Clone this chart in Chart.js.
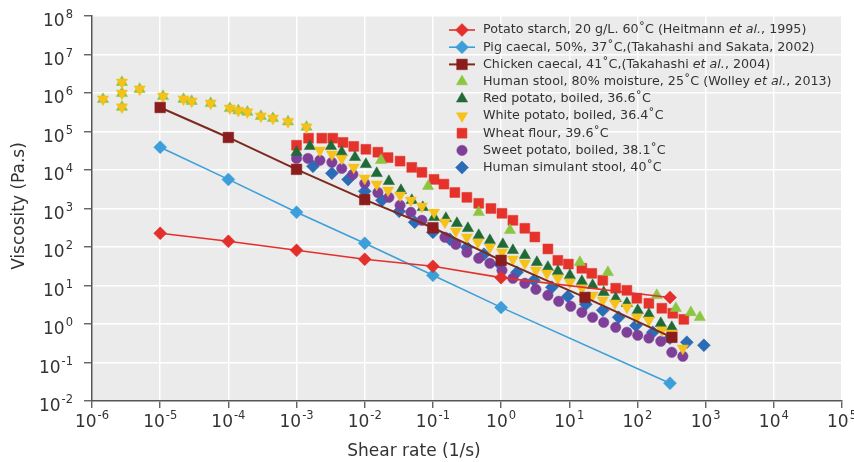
<!DOCTYPE html>
<html><head><meta charset="utf-8">
<script src="https://cdn.jsdelivr.net/npm/chart.js@4.4.1/dist/chart.umd.min.js"></script>
<style>html,body{margin:0;padding:0;background:#fff;}#wrap{width:854px;height:462px;}</style>
</head><body><div id="wrap"><canvas id="c" width="854" height="462"></canvas></div>
<script>
// ---------- data ----------
const tickBase = '10';
const xExponents = [-6,-5,-4,-3,-2,-1,0,1,2,3,4,5];
const yExponents = [-2,-1,0,1,2,3,4,5,6,7,8];
const xTickLabels = ['-6','-5','-4','-3','-2','-1','0','1','2','3','4','5'];
const yTickLabels = ['-2','-1','0','1','2','3','4','5','6','7','8'];

const seriesLabels = [
  'Potato starch, 20 g/L. 60˚C (Heitmann *et al.*, 1995)',
  'Pig caecal, 50%, 37˚C,(Takahashi and Sakata, 2002)',
  'Chicken caecal, 41˚C,(Takahashi *et al.*, 2004)',
  'Human stool, 80% moisture, 25˚C (Wolley *et al.*, 2013)',
  'Red potato, boiled, 36.6˚C',
  'White potato, boiled, 36.4˚C',
  'Wheat flour, 39.6˚C',
  'Sweet potato, boiled, 38.1˚C',
  'Human simulant stool, 40˚C'
];

const potatoStarchX = [1e-5,1e-4,1e-3,1e-2,1e-1,1,300];
const potatoStarchY = [227,141,82,48,31.5,16,4.9];

const pigCaecalX = [1e-5,1e-4,1e-3,1e-2,1e-1,1,300];
const pigCaecalY = [3.9e4,5.7e3,800,125,18.4,2.7,0.029];

const chickenCaecalX = [1e-5,1e-4,1e-3,1e-2,1e-1,1,17,320];
const chickenCaecalY = [4.2e5,7e4,1.04e4,1.7e3,316,45,4.9,0.45];

const humanStoolX = [1.45e-6,2.75e-6,2.75e-6,2.75e-6,5e-6,1.1e-5,2.2e-5,2.9e-5,5.5e-5,1.05e-4,1.4e-4,1.9e-4,3e-4,4.5e-4,7.5e-4,1.4e-3,
  1.73e-2,8.5e-2,0.47,1.35,14.3,36.8,192,366,607,822];
const humanStoolY = [6.9e5,1.9e6,9.8e5,4.3e5,1.26e6,8.2e5,6.9e5,6.1e5,5.4e5,4e5,3.5e5,3.2e5,2.5e5,2.2e5,1.8e5,1.3e5,
  1.79e4,3.8e3,796,272,40,22,5.56,2.56,2.0,1.49];

const redPotatoX = [1.0e-3,1.57e-3,3.2e-3,4.6e-3,7.2e-3,1.04e-2,1.5e-2,2.26e-2,3.4e-2,4.9e-2,7.1e-2,0.104,0.155,0.225,0.326,0.47,0.685,
  1.06,1.49,2.23,3.35,4.86,6.8,10.2,15.3,22,32,48,70,101,147,220,319];
const redPotatoY = [2.88e4,4.13e4,4.13e4,2.88e4,2.14e4,1.41e4,8.2e3,5.1e3,2.97e3,1.63e3,1.07e3,590,556,413,306,201,149,
  117,82,61,40,30,23.4,18.4,12.9,10.1,6.65,4.66,3.45,2.27,1.79,1.04,0.82];

const whitePotatoX = [1.45e-6,2.75e-6,2.75e-6,2.75e-6,5e-6,1.1e-5,2.2e-5,2.9e-5,5.5e-5,1.05e-4,1.4e-4,1.9e-4,3e-4,4.5e-4,7.5e-4,1.4e-3,
  2.2e-3,3.3e-3,4.6e-3,6.9e-3,1.0e-2,1.5e-2,2.2e-2,3.3e-2,4.75e-2,6.9e-2,0.104,0.15,0.217,0.315,0.457,0.685,
  1.03,1.49,2.23,3.24,4.7,6.8,10.2,15.3,22,31,46.7,70,98,147,228,319,463];
const whitePotatoY = [6.9e5,1.9e6,9.8e5,4.3e5,1.26e6,8.2e5,6.9e5,6.1e5,5.4e5,4e5,3.5e5,3.2e5,2.5e5,2.2e5,1.8e5,1.3e5,
  3.25e4,2.56e4,2.0e4,1.17e4,6.1e3,4.26e3,2.97e3,2.2e3,1.63e3,1.14e3,796,439,256,179,132,98,
  73,48,37.8,24.8,20.7,15.4,12.1,8.5,5.56,4.13,3.45,2.72,1.49,1.25,0.686,0.573,0.234];

const wheatFlourX = [1.0e-3,1.5e-3,2.35e-3,3.4e-3,4.8e-3,6.9e-3,1.04e-2,1.56e-2,2.2e-2,3.3e-2,4.9e-2,6.9e-2,0.104,0.145,0.21,0.315,0.47,0.71,
  1.03,1.49,2.23,3.13,4.86,6.8,9.7,15.3,21.4,31,48,70,98,147,228,330,479];
const wheatFlourY = [4.4e4,6.7e4,6.7e4,6.7e4,5.2e4,4.1e4,3.45e4,2.9e4,2.1e4,1.7e4,1.17e4,8.7e3,5.7e3,4.3e3,2.6e3,1.95e3,1.36e3,1.0e3,
  750,494,306,182,89,45,36,28,20.7,13.6,8.5,7.5,4.66,3.45,2.56,1.9,1.32];

const sweetPotatoX = [1.0e-3,1.47e-3,2.2e-3,3.3e-3,4.6e-3,6.7e-3,1.0e-2,1.56e-2,2.26e-2,3.3e-2,4.75e-2,6.9e-2,0.1,0.15,0.217,0.315,0.47,0.685,
  1.03,1.49,2.23,3.24,4.86,7.0,10.5,15.3,22,32,48,70,101,147,220,319,463];
const sweetPotatoY = [2.0e4,2.0e4,1.79e4,1.58e4,1.1e4,7.7e3,4.5e3,2.6e3,1.95e3,1.21e3,796,494,306,179,117,73,51,37.8,
  24.8,15.4,11.4,7.96,5.56,3.89,2.88,2.01,1.49,1.1,0.82,0.61,0.51,0.43,0.356,0.184,0.145];

const humanSimulantX = [1.74e-3,3.3e-3,5.7e-3,1.0e-2,1.79e-2,3.2e-2,5.4e-2,0.1,0.177,0.315,0.56,0.96,1.71,3.03,5.56,9.5,17.5,31,53,95,168,299,530,942];
const humanSimulantY = [1.25e4,8.2e3,5.7e3,2.8e3,1.63e3,845,439,241,158,98,65,35.6,22,13.6,9.0,5.2,3.25,2.27,1.49,0.92,0.61,0.43,0.335,0.28];

// ---------- build ----------
const pts = (xs, ys) => xs.map((x, i) => ({x: x, y: ys[i]}));
function mk(i, xs, ys, color, style, radius, extra) {
  return Object.assign({
    label: seriesLabels[i],
    data: pts(xs, ys),
    showLine: false,
    pointStyle: style,
    pointRadius: radius,
    pointHoverRadius: radius,
    pointBackgroundColor: color,
    pointBorderColor: color,
    pointBorderWidth: 0.5,
    borderColor: color,
    backgroundColor: color,
    pointRotation: 0
  }, extra || {});
}
const datasets = [
  mk(0, potatoStarchX, potatoStarchY, '#e3302c', 'rectRot', 6.5, {showLine: true, borderWidth: 1.6, order: 0}),
  mk(1, pigCaecalX, pigCaecalY, '#3c9fda', 'rectRot', 6.5, {showLine: true, borderWidth: 1.6, order: 1}),
  mk(2, chickenCaecalX, chickenCaecalY, '#8b1d1d', 'rect', 7.5, {showLine: true, borderWidth: 2, borderColor: '#7d2a1e', order: 2}),
  mk(3, humanStoolX, humanStoolY, '#8cc540', 'triangle', 6.5, {order: 5}),
  mk(4, redPotatoX, redPotatoY, '#1f6a36', 'triangle', 6.5, {order: 4}),
  mk(5, whitePotatoX, whitePotatoY, '#f5c11b', 'triangle', 6.5, {pointRotation: 180, order: 3}),
  mk(6, wheatFlourX, wheatFlourY, '#e5322b', 'rect', 7, {order: 8}),
  mk(7, sweetPotatoX, sweetPotatoY, '#7e3f99', 'circle', 5.2, {order: 6}),
  mk(8, humanSimulantX, humanSimulantY, '#2b6cb6', 'rectRot', 6.5, {order: 7})
];

const FONT = "'DejaVu Sans', sans-serif";
const BASE_FONT = '17px ' + FONT;
const EXP_FONT = '11.5px ' + FONT;

function drawPowerLabel(ctx, exp, x, baseline, align) {
  ctx.font = BASE_FONT;
  const w1 = ctx.measureText(tickBase).width;
  ctx.font = EXP_FONT;
  const w2 = ctx.measureText(exp).width;
  let start = align === 'right' ? x - (w1 + w2 + 1) : x - (w1 + w2 + 1) / 2;
  ctx.textAlign = 'left';
  ctx.textBaseline = 'alphabetic';
  ctx.font = BASE_FONT;
  ctx.fillText(tickBase, start, baseline);
  ctx.font = EXP_FONT;
  ctx.fillText(exp, start + w1 + 1, baseline - 8);
}

const bgPlugin = {
  id: 'bg',
  beforeDraw(chart) {
    const a = chart.chartArea, ctx = chart.ctx;
    ctx.save();
    ctx.fillStyle = '#ebebeb';
    ctx.fillRect(a.left, a.top, a.right - a.left, a.bottom - a.top);
    ctx.restore();
  },
  afterDraw(chart) {
    const ctx = chart.ctx, a = chart.chartArea;
    const xs = chart.scales.x, ys = chart.scales.y;
    ctx.save();
    ctx.fillStyle = '#333';
    // tick labels
    xExponents.forEach((e, i) => {
      drawPowerLabel(ctx, xTickLabels[i], xs.getPixelForValue(Math.pow(10, e)), a.bottom + 26);
    });
    yExponents.forEach((e, i) => {
      drawPowerLabel(ctx, yTickLabels[i], a.left - 19, ys.getPixelForValue(Math.pow(10, e)) + 10, 'right');
    });
    // axis titles
    ctx.font = '17px ' + FONT;
    ctx.textAlign = 'center';
    ctx.textBaseline = 'middle';
    ctx.fillText('Shear rate (1/s)', 414, 452);
    ctx.translate(20, 206);
    ctx.rotate(-Math.PI / 2);
    ctx.fillText('Viscosity (Pa.s)', 0, 0);
    ctx.restore();

    // custom legend
    ctx.save();
    const x0 = 462, tx = 483, y0 = 30, dy = 17.2;
    chart.data.datasets.forEach((d, i) => {
      const y = y0 + i * dy;
      if (d.showLine) {
        ctx.strokeStyle = d.borderColor;
        ctx.lineWidth = d.borderWidth;
        ctx.beginPath(); ctx.moveTo(x0 - 13, y); ctx.lineTo(x0 + 13, y); ctx.stroke();
      }
      ctx.fillStyle = d.pointBackgroundColor;
      ctx.strokeStyle = d.pointBackgroundColor;
      ctx.lineWidth = 0.5;
      Chart.helpers.drawPoint(ctx, {pointStyle: d.pointStyle, radius: d.pointRadius, rotation: d.pointRotation, borderWidth: 0.5}, x0, y);
      const parts = d.label.split('*');
      let x = tx;
      ctx.fillStyle = '#333';
      ctx.textAlign = 'left';
      ctx.textBaseline = 'middle';
      parts.forEach((p, k) => {
        ctx.font = (k % 2 ? 'italic ' : '') + '12.7px ' + FONT;
        ctx.fillText(p, x, y);
        x += ctx.measureText(p).width;
      });
    });
    ctx.restore();
  }
};

new Chart(document.getElementById('c'), {
  type: 'scatter',
  data: {datasets: datasets},
  options: {
    responsive: false,
    animation: false,
    devicePixelRatio: 1,
    layout: {padding: {top: 16, right: 12, left: 0, bottom: 0}},
    plugins: {legend: {display: false}, tooltip: {enabled: false}},
    scales: {
      x: {
        type: 'logarithmic', position: 'bottom',
        min: Math.pow(10, xExponents[0]), max: Math.pow(10, xExponents[xExponents.length - 1]),
        afterBuildTicks(scale) { scale.ticks = xExponents.map(e => ({value: Math.pow(10, e)})); },
        afterFit(scale) { scale.height = 61; scale.paddingLeft = 0; scale.paddingRight = 0; },
        ticks: {display: false, autoSkip: false, maxRotation: 0, minRotation: 0},
        grid: {color: '#ffffff', lineWidth: 1.5, tickColor: '#555', tickLength: 7, tickWidth: 1.3},
        border: {color: '#555', width: 1.5}
      },
      y: {
        type: 'logarithmic', position: 'left',
        min: Math.pow(10, yExponents[0]), max: Math.pow(10, yExponents[yExponents.length - 1]),
        afterBuildTicks(scale) { scale.ticks = yExponents.map(e => ({value: Math.pow(10, e)})); },
        afterFit(scale) { scale.width = 92; scale.paddingTop = 0; scale.paddingBottom = 0; },
        ticks: {display: false, autoSkip: false},
        grid: {color: '#ffffff', lineWidth: 1.5, tickColor: '#555', tickLength: 8, tickWidth: 1.3},
        border: {color: '#555', width: 1.5}
      }
    }
  },
  plugins: [bgPlugin]
});
</script></body></html>
